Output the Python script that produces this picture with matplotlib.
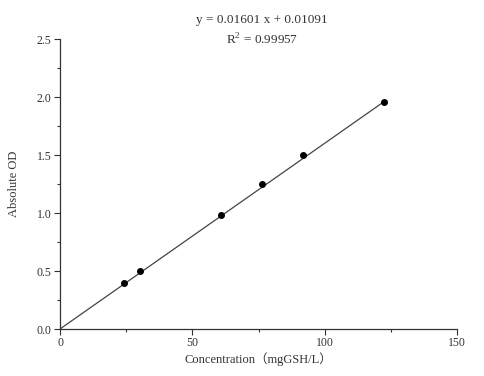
import matplotlib
matplotlib.use("Agg")
import matplotlib.pyplot as plt
import numpy as np
from matplotlib.ticker import MultipleLocator

conc = [24.3, 30.3, 60.8, 76.4, 91.8, 122.4]
od = [0.40, 0.50, 0.98, 1.25, 1.50, 1.96]
slope = 0.01601
intercept = 0.01091
eq_text = "y = 0.01601 x + 0.01091"
r2_text = "R$^2$ = 0.99957"

plt.rcParams['font.family'] = ['Liberation Serif', 'DejaVu Sans']
plt.rcParams['mathtext.fontset'] = 'custom'
plt.rcParams['mathtext.rm'] = 'Liberation Serif'
fig = plt.figure(figsize=(4.84, 3.76), dpi=100)
ax = fig.add_axes([60/484, 47/376, 397/484, 290/376])

xf = np.array([0, max(conc)])
ax.plot(xf, slope*xf, color='#444444', lw=0.9, zorder=2)
ax.scatter(conc, od, s=16, color='black', zorder=3)

ax.set_xlim(0, 150)
ax.set_ylim(0, 2.5)
ax.xaxis.set_major_locator(MultipleLocator(50))
ax.xaxis.set_minor_locator(MultipleLocator(25))
ax.yaxis.set_major_locator(MultipleLocator(0.5))
ax.yaxis.set_minor_locator(MultipleLocator(0.25))
ax.yaxis.set_major_formatter(matplotlib.ticker.FormatStrFormatter('%.1f'))
for s in ['top', 'right']:
    ax.spines[s].set_visible(False)
for s in ['left', 'bottom']:
    ax.spines[s].set_color('#333333')
    ax.spines[s].set_linewidth(0.9)
ax.tick_params(which='major', direction='out', length=4, width=0.8, labelsize=8.5, colors='#333333', pad=2)
ax.tick_params(which='minor', direction='out', length=2.5, width=0.8, colors='#333333')
ax.set_xlabel("Concentration（mgGSH/L）", fontsize=9, labelpad=2, color='#333333')
ax.set_ylabel("Absolute OD", fontsize=9, labelpad=12, color='#333333')
ax.xaxis.label.set_family(['Liberation Serif', 'Noto Sans CJK SC'])
fig.text(262/484, 1-20/376, eq_text, ha='center', va='center', fontsize=9.5, color='#333333')
fig.text(262/484, 1-40/376, r2_text, ha='center', va='center', fontsize=9.5, color='#333333')

fig.savefig("out.png", dpi=100)
